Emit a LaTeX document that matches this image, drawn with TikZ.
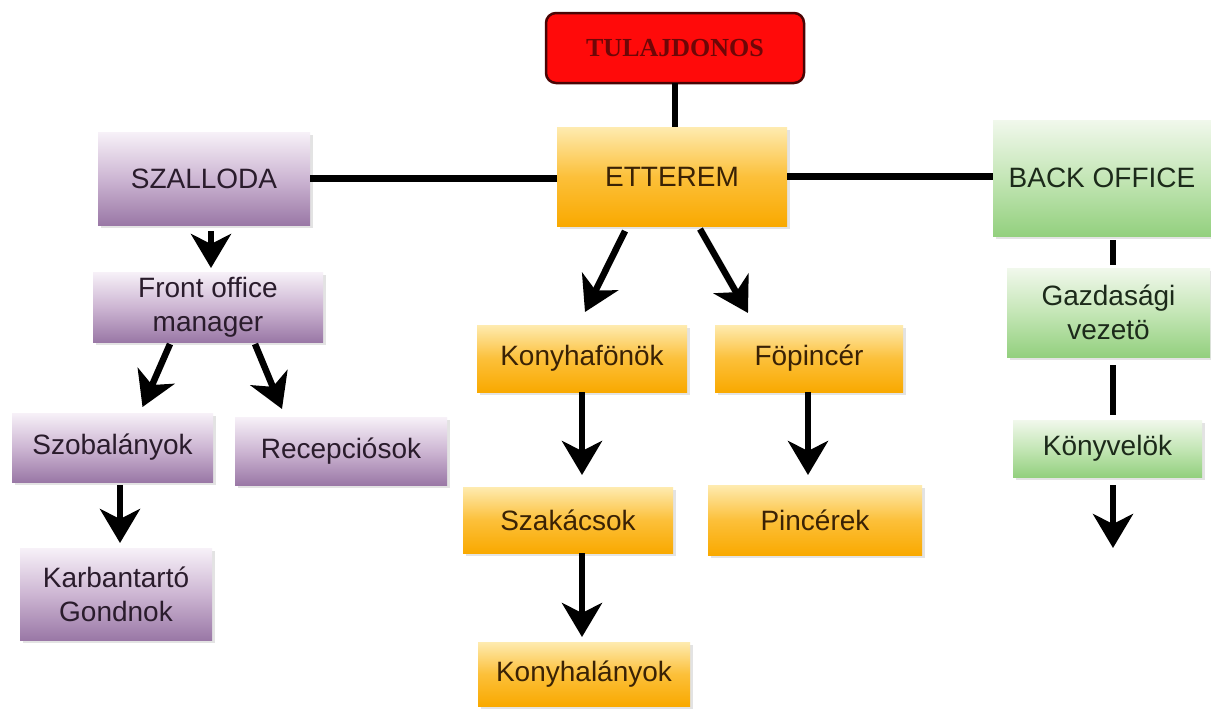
\documentclass[tikz,border=0pt]{standalone}
\usepackage{fontspec}
\setmainfont{Liberation Sans}
\newfontfamily\tulfont{Liberation Serif}
\usetikzlibrary{arrows.meta,shadows,calc}
\definecolor{purpT}{HTML}{F7F1F8}
\definecolor{purpM}{HTML}{CDB6D3}
\definecolor{purpB}{HTML}{9A78A6}
\definecolor{purpTx}{HTML}{2A1C2C}
\definecolor{oraT}{HTML}{FEEBB0}
\definecolor{oraM}{HTML}{FCC03A}
\definecolor{oraB}{HTML}{F9A900}
\definecolor{oraTx}{HTML}{3A2205}
\definecolor{grnT}{HTML}{F1F8EC}
\definecolor{grnM}{HTML}{C4E6B6}
\definecolor{grnB}{HTML}{93D07E}
\definecolor{grnTx}{HTML}{1C2A1A}
\definecolor{tulRed}{HTML}{FF0A0A}
\definecolor{tulBorder}{HTML}{4A0505}
\definecolor{tulTx}{HTML}{6E0707}
\begin{document}
\begin{tikzpicture}[x=1pt,y=-1pt,
  box/.style={rectangle, inner sep=0pt, outer sep=0pt, align=center,
    font=\fontsize{28}{34}\selectfont,
    drop shadow={shadow xshift=3pt,shadow yshift=-3pt,opacity=0.22}},
  purp/.style={box, top color=purpT, bottom color=purpB, middle color=purpM, text=purpTx},
  ora/.style={box, top color=oraT, bottom color=oraB, middle color=oraM, text=oraTx},
  grn/.style={box, top color=grnT, bottom color=grnB, middle color=grnM, text=grnTx},
  topbox/.style={rectangle, rounded corners=10pt, fill=tulRed, draw=tulBorder,
    line width=2.5pt, text=tulTx, font=\tulfont\bfseries\fontsize{26}{30}\selectfont,
    inner sep=0pt, outer sep=0pt},
  conn/.style={line width=6.5pt, black},
  arr/.style={line width=6.5pt, black, -{Stealth[length=34pt,width=40pt,inset=10pt]}}
]
\fill[white] (0,0) rectangle (1211,710);
\useasboundingbox (0,0) rectangle (1211,710);

% nodes
\node[topbox, minimum width=258pt, minimum height=70pt] (tul) at (675,48) {TULAJDONOS};
\node[ora, minimum width=230pt, minimum height=99pt] (ett) at (672,176.5) {ETTEREM};
\node[purp, minimum width=212pt, minimum height=93pt] (sza) at (204,178.5) {SZALLODA};
\node[grn, minimum width=218pt, minimum height=116pt] (bo) at (1102,178) {BACK OFFICE};

\node[purp, minimum width=230pt, minimum height=70pt] (fom) at (208,307) {Front office\\manager};
\node[purp, minimum width=201pt, minimum height=69pt] (szo) at (112.5,447.5) {Szobalányok};
\node[purp, minimum width=212pt, minimum height=68pt] (rec) at (341,451) {Recepciósok};
\node[purp, minimum width=192pt, minimum height=92pt] (kar) at (116,594) {Karbantartó\\Gondnok};

\node[ora, minimum width=210pt, minimum height=67pt] (kf) at (582,358.5) {Konyhafönök};
\node[ora, minimum width=188pt, minimum height=67pt] (fp) at (809,358.5) {Föpincér};
\node[ora, minimum width=210pt, minimum height=66pt] (szk) at (568,520) {Szakácsok};
\node[ora, minimum width=214pt, minimum height=70pt] (pin) at (815,520) {Pincérek};
\node[ora, minimum width=212pt, minimum height=64pt] (kl) at (584,674) {Konyhalányok};

\node[grn, minimum width=203pt, minimum height=89pt] (gv) at (1108.5,312.5) {Gazdasági\\vezetö};
\node[grn, minimum width=189pt, minimum height=57pt] (kv) at (1107.5,448.5) {Könyvelök};
\coordinate (kvend) at (1113,548);

% connectors
\draw[conn] (tul.south) -- (tul.south |- ett.north);
\draw[conn] (sza.east) -- (sza.east -| ett.west);
\draw[conn] (ett.east) -- (ett.east -| bo.west);

\draw[arr] ([xshift=7pt,yshift=-6pt]sza.south) -- ([xshift=3pt,yshift=4pt]fom.north);
\draw[arr] ([xshift=-38pt,yshift=-2pt]fom.south) -- ([xshift=30pt,yshift=6pt]szo.north);
\draw[arr] ([xshift=47pt,yshift=-2pt]fom.south) -- ([xshift=-59pt,yshift=8pt]rec.north);
\draw[arr] ([xshift=7.5pt,yshift=-3pt]szo.south) -- ([xshift=4pt,yshift=5pt]kar.north);

\draw[arr] ([xshift=-47pt,yshift=-5pt]ett.south) -- ([xshift=3pt,yshift=13pt]kf.north);
\draw[arr] ([xshift=28pt,yshift=-3pt]ett.south) -- ([xshift=-61pt,yshift=12pt]fp.north);
\draw[arr] (kf.south) -- ([xshift=14pt,yshift=12pt]szk.north);
\draw[arr] ([xshift=-1pt]fp.south) -- ([xshift=-7pt,yshift=10pt]pin.north);
\draw[arr] ([xshift=14pt]szk.south) -- ([xshift=-2pt,yshift=5pt]kl.north);

\draw[conn] ([xshift=11pt,yshift=-4pt]bo.south) -- ([xshift=4.5pt,yshift=3pt]gv.north);
\draw[conn] ([xshift=4.5pt,yshift=-8pt]gv.south) -- ([xshift=5.5pt,yshift=5pt]kv.north);
\draw[arr] ([xshift=5.5pt,yshift=-8pt]kv.south) -- (kvend);
\end{tikzpicture}
\end{document}
